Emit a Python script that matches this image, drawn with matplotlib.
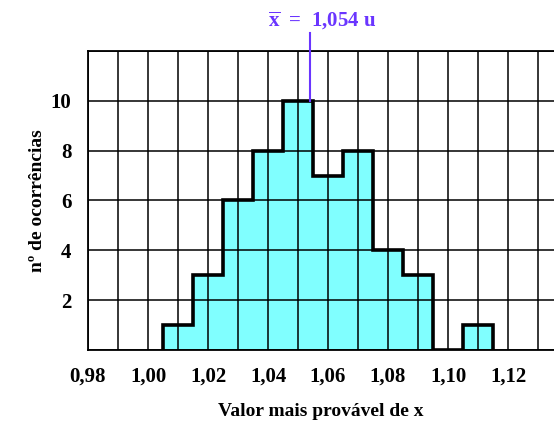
import numpy as np
import matplotlib
matplotlib.use('Agg')
import matplotlib.pyplot as plt

plt.rcParams['font.family'] = 'Liberation Serif'
plt.rcParams['font.weight'] = 'bold'
plt.rcParams['axes.labelweight'] = 'bold'
plt.rcParams['mathtext.fontset'] = 'custom'
plt.rcParams['mathtext.rm'] = 'Liberation Serif:bold'
plt.rcParams['mathtext.bf'] = 'Liberation Serif:bold'

centros = [1.01, 1.02, 1.03, 1.04, 1.05, 1.06, 1.07, 1.08, 1.09, 1.10, 1.11]
ocorrencias = [1, 3, 6, 8, 10, 7, 8, 4, 3, 0, 1]
xticks = [0.98, 1.00, 1.02, 1.04, 1.06, 1.08, 1.10, 1.12]
xticklabels = ['0,98', '1,00', '1,02', '1,04', '1,06', '1,08', '1,10', '1,12']
yticks = [2, 4, 6, 8, 10]
media = 1.054
media_txt = '1,054 u'

largura = 0.01
bordas = np.append(np.array(centros) - largura / 2, centros[-1] + largura / 2)
roxo = '#6a35ff'

fig = plt.figure(figsize=(5.54, 4.23), dpi=100)
ax = fig.add_axes([88 / 554, 73 / 423, 466 / 554, 299 / 423])

ax.bar(centros, ocorrencias, width=largura, color='#80ffff', edgecolor='none', zorder=1)
ax.stairs(ocorrencias, bordas, baseline=0, color='black', lw=2.6, zorder=3)

ax.set_xlim(0.98, 0.98 + 466 / 30 * 0.01)
ax.set_ylim(0, 12)
ax.set_xticks(xticks)
ax.set_xticklabels(xticklabels)
ax.set_xticks(np.arange(0.99, 1.135, 0.02), minor=True)
ax.set_yticks(np.arange(0, 13, 2), minor=True)
ax.set_yticks(yticks)
ax.tick_params(which='both', length=0, labelsize=15)
ax.tick_params(axis='x', pad=12)
ax.tick_params(axis='y', pad=12)
ax.grid(True, which='both', color='black', lw=1.1, zorder=2)
ax.set_axisbelow(False)
for s in ['left', 'top', 'bottom']:
    ax.spines[s].set_linewidth(1.3)
ax.spines['right'].set_visible(False)

ax.set_xlabel('Valor mais provável de x', fontsize=14, labelpad=12)
ax.set_ylabel('nº de ocorrências', fontsize=14, labelpad=3)

ax.plot([media, media], [10, 12.72], color=roxo, lw=1.5, clip_on=False, zorder=4)
ax.text(media + 0.004, 13.25, r'$\overline{\mathrm{x}}$  =  ' + media_txt, color=roxo,
        fontsize=15, ha='center', va='center', clip_on=False)

fig.savefig('out.png', dpi=100)
